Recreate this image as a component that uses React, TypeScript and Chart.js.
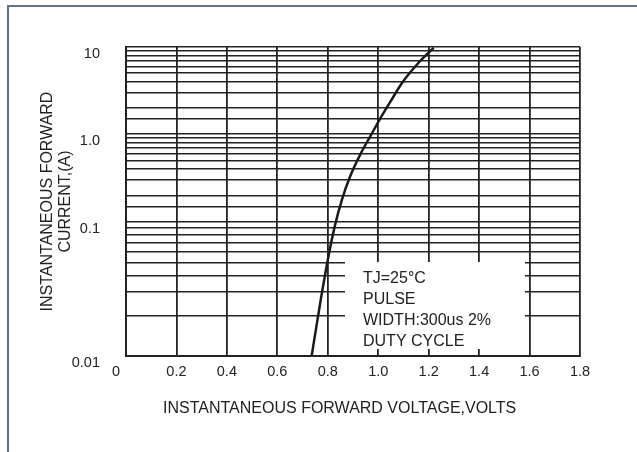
import React, { useEffect, useRef } from 'react';
import { Chart, registerables, LogarithmicScale } from 'chart.js';

// ---- data ----
const X_TICK_LABELS = ['0', '0.2', '0.4', '0.6', '0.8', '1.0', '1.2', '1.4', '1.6', '1.8'];
const Y_DECADES = [0.01, 0.1, 1, 10];
const Y_DECADE_LABELS = ['0.01', '0.1', '1.0', '10'];
const VOLTAGE = [0.736, 0.772, 0.803, 0.828, 0.856, 0.888, 0.928, 0.974, 1.005, 1.053, 1.095, 1.16, 1.22];
const CURRENT = [0.01, 0.0262, 0.0557, 0.0934, 0.178, 0.325, 0.577, 1.0, 1.45, 2.47, 3.88, 6.59, 9.8];
const NOTE_LINES = ['TJ=25°C', 'PULSE', 'WIDTH:300us 2%', 'DUTY CYCLE'];

// the printed log paper does not space its decades evenly
const PRINTED_DECADE_POSITIONS = [0, 0.434, 0.719, 1];

const FONT = '"Liberation Sans", Arial, Helvetica, sans-serif';
const INK = '#222222';

const LOG_DECADES = Y_DECADES.map((v) => Math.log10(v));

function logToFraction(lv: number): number {
  const L = LOG_DECADES;
  const F = PRINTED_DECADE_POSITIONS;
  let i = 0;
  while (i < L.length - 2 && lv > L[i + 1]) i++;
  return F[i] + ((lv - L[i]) * (F[i + 1] - F[i])) / (L[i + 1] - L[i]);
}

function fractionToLog(f: number): number {
  const L = LOG_DECADES;
  const F = PRINTED_DECADE_POSITIONS;
  let i = 0;
  while (i < F.length - 2 && f > F[i + 1]) i++;
  return L[i] + ((f - F[i]) * (L[i + 1] - L[i])) / (F[i + 1] - F[i]);
}

class PrintedLogScale extends LogarithmicScale {
  static id = 'printedLog';
  getPixelForValue(value: any) {
    if (value === undefined || value === 0) value = (this as any).min;
    if (value === null || isNaN(value)) return NaN;
    return this.getPixelForDecimal(logToFraction(Math.log10(value)));
  }
  getValueForPixel(pixel: number) {
    const d = this.getDecimalForPixel(pixel);
    return Math.pow(10, fractionToLog(d));
  }
}

Chart.register(...registerables, PrintedLogScale);

const notePlugin = {
  id: 'noteBox',
  beforeDatasetsDraw(chart: any) {
    const { ctx, chartArea } = chart;
    const left = chartArea.left + 219;
    const right = chartArea.left + 399;
    const top = chartArea.top + 215;
    const bottom = chartArea.top + 302;
    ctx.save();
    ctx.fillStyle = '#ffffff';
    ctx.fillRect(left, top, right - left, bottom - top);
    ctx.fillStyle = INK;
    ctx.font = `16px ${FONT}`;
    ctx.textBaseline = 'middle';
    ctx.textAlign = 'left';
    NOTE_LINES.forEach((t, i) => ctx.fillText(t, left + 18, top + 16.5 + i * 21));
    ctx.restore();
  },
};

export default function App() {
  const ref = useRef<HTMLCanvasElement | null>(null);

  useEffect(() => {
    document.body.style.margin = '0';
    if (!ref.current) return;
    Chart.defaults.font.family = FONT;
    const chart = new Chart(ref.current, {
      type: 'line',
      data: {
        datasets: [
          {
            data: VOLTAGE.map((x, i) => ({ x, y: CURRENT[i] })),
            borderColor: '#1a1a1a',
            borderWidth: 2.5,
            pointRadius: 0,
            cubicInterpolationMode: 'monotone',
            fill: false,
          },
        ],
      },
      options: {
        animation: false,
        responsive: false,
        events: [],
        layout: { padding: { top: 47, right: 57, left: 0, bottom: 0 } },
        plugins: { legend: { display: false }, tooltip: { enabled: false } },
        scales: {
          x: {
            type: 'linear',
            min: 0,
            max: 1.8,
            afterFit: (s: any) => {
              s.height = 96;
            },
            grid: { color: INK, lineWidth: 1.8, drawTicks: false },
            border: { color: INK, width: 2 },
            ticks: {
              stepSize: 0.2,
              autoSkip: false,
              maxRotation: 0,
              padding: 7,
              color: INK,
              font: { size: 14.5 },
              callback: (_v: any, i: number) =>
                i === 0 ? X_TICK_LABELS[0] + '     ' : X_TICK_LABELS[i],
            },
            title: {
              display: true,
              text: 'INSTANTANEOUS FORWARD VOLTAGE,VOLTS' + '      ',
              color: INK,
              font: { size: 16 },
              padding: { top: 0, bottom: 34 },
            },
          },
          y: {
            type: 'printedLog' as any,
            min: 0.01,
            max: 10,
            afterFit: (s: any) => {
              s.width = 126;
            },
            grid: { color: INK, lineWidth: 1.5, drawTicks: false },
            border: { color: INK, width: 2 },
            ticks: {
              autoSkip: false,
              padding: 26,
              labelOffset: 7,
              color: INK,
              font: { size: 14.5 },
              callback: (v: any) => {
                const k = Y_DECADES.findIndex((d) => Math.abs(d - Number(v)) < d * 1e-6);
                return k >= 0 ? Y_DECADE_LABELS[k] : '';
              },
            },
            title: {
              display: true,
              text: ['INSTANTANEOUS FORWARD', 'CURRENT,(A)'],
              color: INK,
              font: { size: 16, lineHeight: 1.15 },
              padding: { top: 38, bottom: 0 },
            },
          },
        },
      } as any,
      plugins: [notePlugin],
    });
    return () => chart.destroy();
  }, []);

  return (
    <div style={{ position: 'relative', width: 637, height: 452, overflow: 'hidden', background: '#fff' }}>
      <canvas ref={ref} width={637} height={452} style={{ display: 'block' }} />
      <div
        style={{
          position: 'absolute',
          left: 7,
          top: 5,
          width: 700,
          height: 500,
          borderTop: '2px solid #607283',
          borderLeft: '2px solid #607283',
          pointerEvents: 'none',
        }}
      />
    </div>
  );
}
